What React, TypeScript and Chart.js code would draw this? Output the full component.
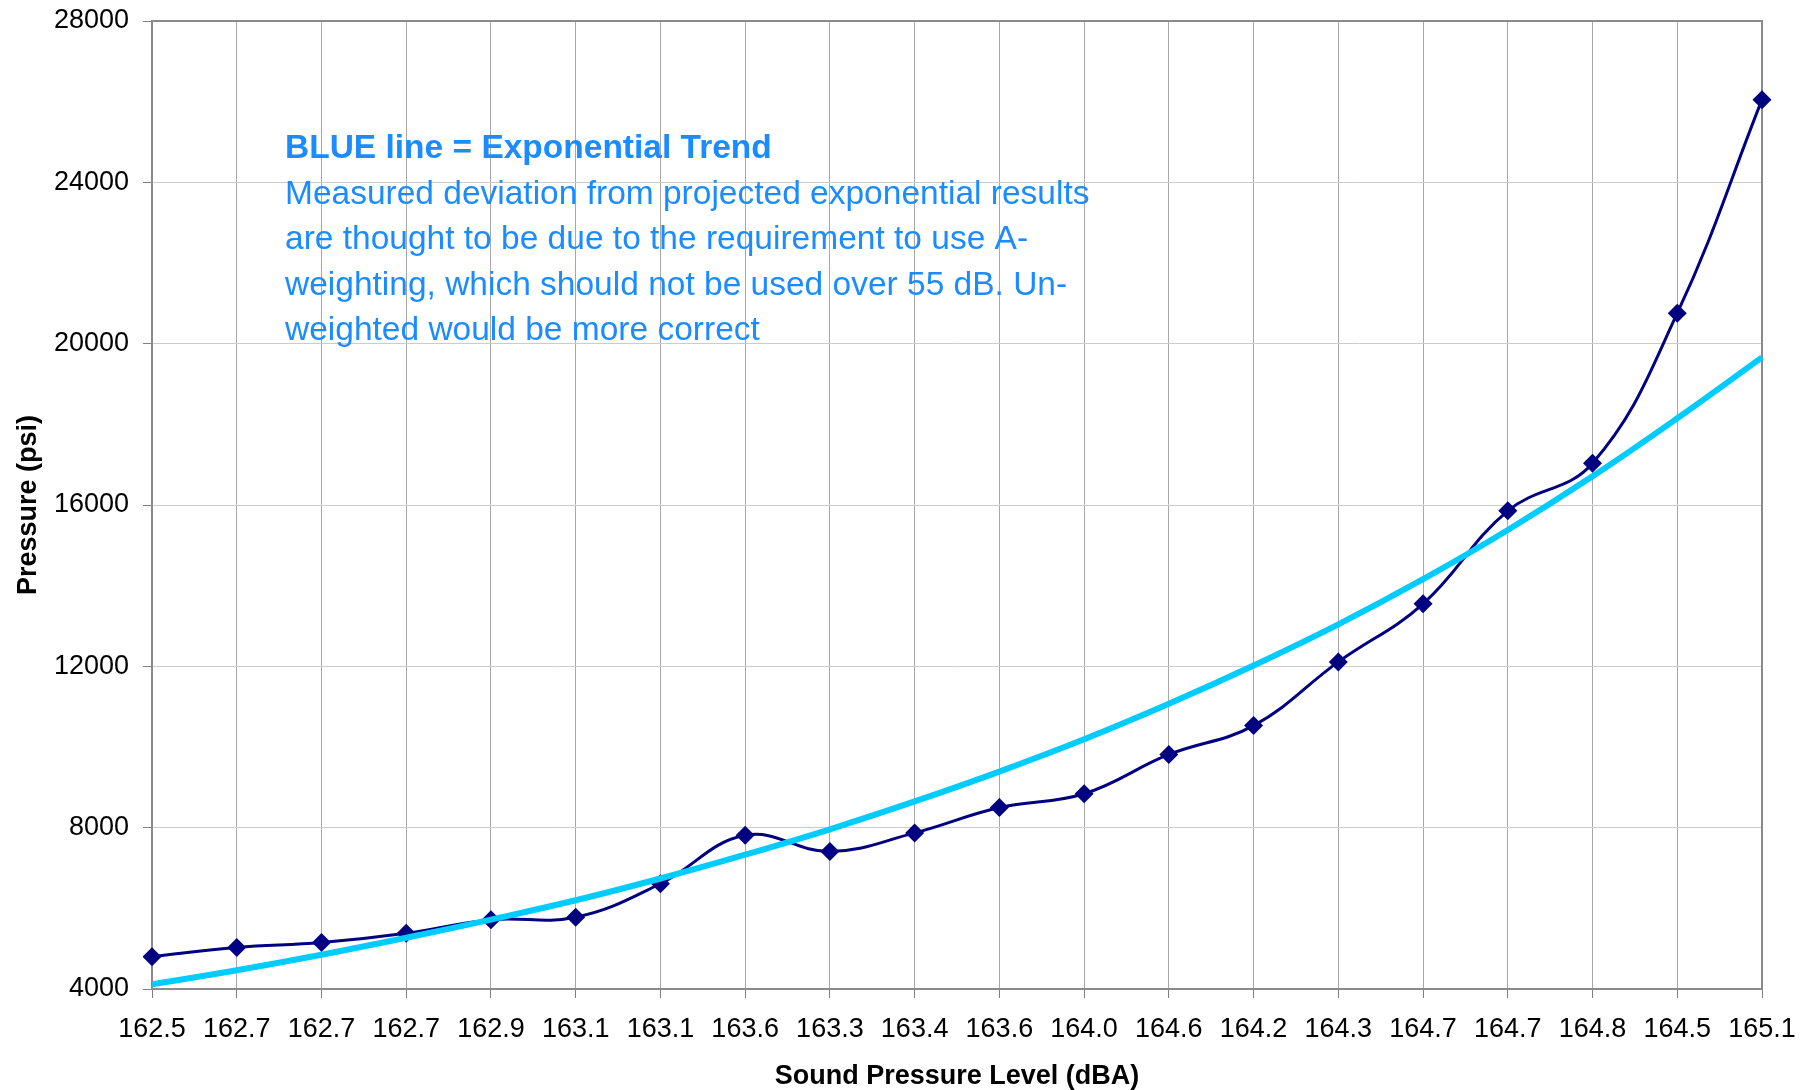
import React, { useEffect, useRef } from 'react';
import { Chart, registerables } from 'chart.js';

Chart.register(...registerables);

const FONT = '"Liberation Sans", Arial, Helvetica, sans-serif';

// Category labels (Sound Pressure Level, dBA)
const categories = [
  '162.5', '162.7', '162.7', '162.7', '162.9', '163.1', '163.1', '163.6', '163.3', '163.4',
  '163.6', '164.0', '164.6', '164.2', '164.3', '164.7', '164.7', '164.8', '164.5', '165.1',
];

// Measured pressure (psi)
const measured = [
  4800, 5030, 5150, 5380, 5720, 5780, 6610, 7810, 7410, 7870,
  8500, 8840, 9815, 10530, 12110, 13550, 15855, 17035, 20755, 26050,
];

// Exponential trend (psi)
const trend = [
  4115, 4465, 4850, 5270, 5720, 6200, 6740, 7330, 7960, 8650,
  9390, 10190, 11070, 12020, 13040, 14160, 15380, 16710, 18150, 19660,
];

const yMin = 4000;
const yMax = 28000;
const yStep = 4000;

const xTitle = 'Sound Pressure Level (dBA)';
const yTitle = 'Pressure (psi)';

const noteTitle = 'BLUE line = Exponential Trend';
const noteLines = [
  'Measured deviation from projected exponential results',
  'are thought to be due to the requirement to use A-',
  'weighting, which should not be used over 55 dB. Un-',
  'weighted would be more correct',
];

const framePlugin = {
  id: 'frame',
  beforeDatasetsDraw(chart: any) {
    const { ctx, chartArea } = chart;
    ctx.save();
    ctx.strokeStyle = '#8a8a8a';
    ctx.lineWidth = 2;
    ctx.strokeRect(chartArea.left, chartArea.top, chartArea.right - chartArea.left, chartArea.bottom - chartArea.top);
    ctx.restore();
  },
};

const notePlugin = {
  id: 'note',
  afterDraw(chart: any) {
    const { ctx } = chart;
    ctx.save();
    ctx.fillStyle = '#1A8CFF';
    ctx.textBaseline = 'alphabetic';
    ctx.textAlign = 'left';
    ctx.font = `bold 33.5px ${FONT}`;
    ctx.fillText(noteTitle, 285, 158);
    ctx.font = `33.5px ${FONT}`;
    noteLines.forEach((line, i) => {
      ctx.fillText(line, 285, 158 + 45.6 * (i + 1));
    });
    ctx.restore();
  },
};

export default function App() {
  const canvasRef = useRef<HTMLCanvasElement | null>(null);

  useEffect(() => {
    if (!canvasRef.current) return;
    const chart = new Chart(canvasRef.current, {
      type: 'line',
      data: {
        labels: categories,
        datasets: [
          {
            label: 'Exponential Trend',
            data: trend,
            borderColor: '#00CCFF',
            backgroundColor: '#00CCFF',
            borderWidth: 6,
            pointRadius: 0,
            tension: 0.4,
            order: 0,
          },
          {
            label: 'Measured',
            data: measured,
            borderColor: '#000080',
            backgroundColor: '#000080',
            borderWidth: 3,
            pointStyle: 'rectRot',
            pointRadius: 9.5,
            pointBackgroundColor: '#000080',
            pointBorderColor: '#000080',
            pointBorderWidth: 0,
            tension: 0.4,
            order: 1,
          },
        ],
      },
      options: {
        responsive: false,
        animation: false,
        devicePixelRatio: 1,
        layout: { padding: { left: 0, right: 49, top: 21, bottom: 0 } },
        plugins: {
          legend: { display: false },
          tooltip: { enabled: false },
        },
        scales: {
          x: {
            type: 'category',
            offset: false,
            grid: { color: '#a8a8a8', lineWidth: 1, tickLength: 9, tickColor: '#808080' },
            border: { color: '#808080', width: 2 },
            ticks: {
              color: '#000',
              font: { family: FONT, size: 27 },
              padding: 15,
              maxRotation: 0,
              autoSkip: false,
            },
            title: {
              display: true,
              text: xTitle,
              color: '#000',
              font: { family: FONT, size: 27, weight: 'bold' },
              padding: { top: 0, bottom: -3 },
            },
            afterFit: (s: any) => {
              s.height = 101;
            },
          },
          y: {
            min: yMin,
            max: yMax,
            grid: { color: '#cccccc', lineWidth: 1, tickLength: 9, tickColor: '#808080' },
            border: { color: '#808080', width: 2 },
            ticks: {
              stepSize: yStep,
              color: '#000',
              font: { family: FONT, size: 27 },
              padding: 14,
              callback: (v: any) => String(v),
            },
            title: {
              display: true,
              text: yTitle,
              color: '#000',
              font: { family: FONT, size: 27, weight: 'bold' },
              padding: { top: 12, bottom: 0 },
            },
            afterFit: (s: any) => {
              s.width = 152;
              s.paddingTop = 0;
              s.paddingBottom = 0;
            },
          },
        },
      },
      plugins: [framePlugin, notePlugin],
    });
    return () => chart.destroy();
  }, []);

  return (
    <div style={{ position: 'fixed', left: 0, top: 0, width: 1811, height: 1090, background: '#fff' }}>
      <canvas ref={canvasRef} width={1811} height={1090} style={{ display: 'block' }} />
    </div>
  );
}
